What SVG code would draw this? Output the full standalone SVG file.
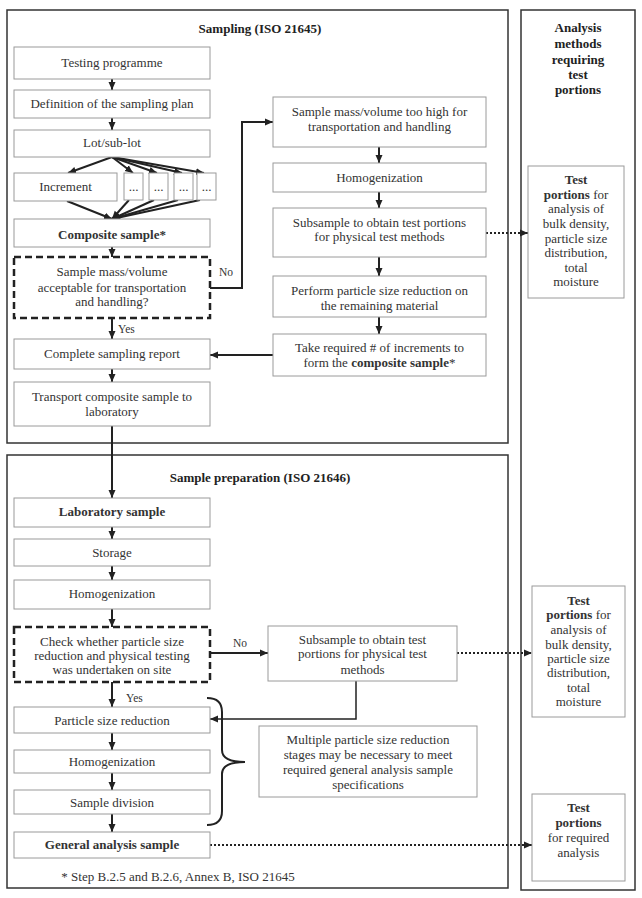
<svg xmlns="http://www.w3.org/2000/svg" width="642" height="898" viewBox="0 0 642 898">
<defs>
<marker id="ah" markerUnits="userSpaceOnUse" markerWidth="9" markerHeight="8" refX="8" refY="4" orient="auto">
<path d="M0,0.5 L8,4 L0,7.5 z" fill="#222"/>
</marker>
<style>
.frame{fill:none;stroke:#333;stroke-width:1.5}
.box{fill:#fff;stroke:#9a9a9a;stroke-width:1}
.dash{fill:#fff;stroke:#222;stroke-width:2.5;stroke-dasharray:7,4}
text{font-family:"Liberation Serif","DejaVu Serif",serif;font-size:13px;fill:#333;text-anchor:middle}
.b{font-weight:bold}
.t{font-weight:bold;fill:#222}
.sm{font-size:11.5px}
.l{text-anchor:start}
.arr{fill:none;stroke:#222;stroke-width:2;marker-end:url(#ah)}
.thin{fill:none;stroke:#222;stroke-width:1.5;marker-end:url(#ah)}
.dot{fill:none;stroke:#222;stroke-width:2;stroke-dasharray:2,2;marker-end:url(#ah)}
.ln{fill:none;stroke:#222;stroke-width:2}
</style>
</defs>

<g id="frames">
<rect class="frame" x="7" y="10" width="501" height="433"/>
<rect class="frame" x="7" y="455" width="501" height="433"/>
<rect class="frame" x="521" y="10" width="114" height="880"/>
<text class="t" x="260" y="33">Sampling (ISO 21645)</text>
<text class="t" x="260" y="482">Sample preparation (ISO 21646)</text>
<text class="t" x="578" y="32">Analysis</text>
<text class="t" x="578" y="48">methods</text>
<text class="t" x="578" y="64">requiring</text>
<text class="t" x="578" y="79">test</text>
<text class="t" x="578" y="94">portions</text>
</g>

<g id="connectors">
<path class="arr" d="M112,79 L112,90"/>
<path class="arr" d="M112,118 L112,130"/>
<path class="arr" d="M112,157 L68,173"/>
<path class="arr" d="M112,157 L133,173"/>
<path class="arr" d="M112,157 L157,173"/>
<path class="arr" d="M112,157 L182,173"/>
<path class="arr" d="M112,157 L204,173"/>
<path class="arr" d="M67,201 L112,219"/>
<path class="arr" d="M129,200 L112,219"/>
<path class="arr" d="M154,200 L112,219"/>
<path class="arr" d="M178,200 L112,219"/>
<path class="arr" d="M200,200 L112,219"/>
<path class="arr" d="M112,247 L112,257"/>
<path class="arr" d="M112,318 L112,339"/>
<path class="arr" d="M210,288 L242,288 L242,122 L273,122"/>
<path class="arr" d="M379,147 L379,163"/>
<path class="arr" d="M379,192 L379,208"/>
<path class="arr" d="M379,257 L379,276"/>
<path class="arr" d="M379,317 L379,334"/>
<path class="arr" d="M273,355 L210,355"/>
<path class="arr" d="M112,369 L112,382"/>
<path class="dot" d="M486,233 L528,233"/>
<path class="arr" d="M112,426 L112,498"/>
<path class="arr" d="M112,527 L112,539"/>
<path class="arr" d="M112,566 L112,580"/>
<path class="arr" d="M112,609 L112,627"/>
<path class="arr" d="M210,653 L268,653"/>
<path class="dot" d="M457,653 L532,653"/>
<path class="thin" d="M356,681 L356,719 L210,719"/>
<path class="arr" d="M112,682 L112,707"/>
<path class="arr" d="M112,733 L112,750"/>
<path class="arr" d="M112,773 L112,790"/>
<path class="arr" d="M112,814 L112,832"/>
<path class="dot" d="M210,845 L532,845"/>
<path class="ln" d="M207,698 Q222,698 222,712 L222,750 Q222,762 245,762 Q222,762 222,774 L222,811 Q222,825 207,825"/>
<text class="sm" x="226" y="276">No</text>
<text class="sm l" x="118" y="333">Yes</text>
<text class="sm" x="240" y="647">No</text>
<text class="sm l" x="126" y="702">Yes</text>
</g>

<g id="n-testing">
<rect class="box" x="14" y="47" width="196" height="32"/>
<text x="112" y="67">Testing programme</text>
</g>
<g id="n-definition">
<rect class="box" x="14" y="90" width="196" height="28"/>
<text x="112" y="108">Definition of the sampling plan</text>
</g>
<g id="n-lot">
<rect class="box" x="14" y="130" width="196" height="27"/>
<text x="112" y="147">Lot/sub-lot</text>
</g>
<g id="n-increment">
<rect class="box" x="14" y="173" width="103" height="28"/>
<text x="65.5" y="191">Increment</text>
</g>
<g id="n-dots1"><rect class="box" x="124" y="173" width="19" height="27"/><text x="133.5" y="191">...</text></g>
<g id="n-dots2"><rect class="box" x="149" y="173" width="19" height="27"/><text x="158.5" y="191">...</text></g>
<g id="n-dots3"><rect class="box" x="174" y="173" width="19" height="27"/><text x="183.5" y="191">...</text></g>
<g id="n-dots4"><rect class="box" x="197" y="173" width="19" height="27"/><text x="206.5" y="191">...</text></g>
<g id="n-composite">
<rect class="box" x="14" y="219" width="196" height="28"/>
<text class="b" x="112" y="239">Composite sample*</text>
</g>
<g id="n-acceptable">
<rect class="dash" x="14" y="257" width="196" height="61"/>
<text x="112" y="276">Sample mass/volume</text>
<text x="112" y="292">acceptable for transportation</text>
<text x="112" y="306">and handling?</text>
</g>
<g id="n-report">
<rect class="box" x="14" y="339" width="196" height="30"/>
<text x="112" y="358">Complete sampling report</text>
</g>
<g id="n-transport">
<rect class="box" x="14" y="382" width="196" height="44"/>
<text x="112" y="401">Transport composite sample to</text>
<text x="112" y="416">laboratory</text>
</g>
<g id="n-toohigh">
<rect class="box" x="273" y="97" width="213" height="50"/>
<text x="379.5" y="116">Sample mass/volume too high for</text>
<text x="379.5" y="131">transportation and handling</text>
</g>
<g id="n-homog1">
<rect class="box" x="273" y="163" width="213" height="29"/>
<text x="379.5" y="182">Homogenization</text>
</g>
<g id="n-subsample1">
<rect class="box" x="273" y="208" width="213" height="49"/>
<text x="379.5" y="227">Subsample to obtain test portions</text>
<text x="379.5" y="241">for physical test methods</text>
</g>
<g id="n-perform">
<rect class="box" x="273" y="276" width="213" height="41"/>
<text x="379.5" y="295">Perform particle size reduction on</text>
<text x="379.5" y="310">the remaining material</text>
</g>
<g id="n-take">
<rect class="box" x="273" y="334" width="213" height="42"/>
<text x="379.5" y="352">Take required # of increments to</text>
<text x="379.5" y="367">form the <tspan class="b">composite sample</tspan>*</text>
</g>

<g id="n-lab">
<rect class="box" x="14" y="498" width="196" height="29"/>
<text class="b" x="112" y="516">Laboratory sample</text>
</g>
<g id="n-storage">
<rect class="box" x="14" y="539" width="196" height="27"/>
<text x="112" y="557">Storage</text>
</g>
<g id="n-homog2">
<rect class="box" x="14" y="580" width="196" height="29"/>
<text x="112" y="598">Homogenization</text>
</g>
<g id="n-check">
<rect class="dash" x="14" y="627" width="196" height="55"/>
<text x="112" y="646">Check whether particle size</text>
<text x="112" y="660">reduction and physical testing</text>
<text x="112" y="674">was undertaken on site</text>
</g>
<g id="n-subsample2">
<rect class="box" x="268" y="626" width="189" height="55"/>
<text x="362.5" y="644">Subsample to obtain test</text>
<text x="362.5" y="658">portions for physical test</text>
<text x="362.5" y="674">methods</text>
</g>
<g id="n-psr">
<rect class="box" x="14" y="707" width="196" height="26"/>
<text x="112" y="725">Particle size reduction</text>
</g>
<g id="n-homog3">
<rect class="box" x="14" y="750" width="196" height="23"/>
<text x="112" y="766">Homogenization</text>
</g>
<g id="n-division">
<rect class="box" x="14" y="790" width="196" height="24"/>
<text x="112" y="807">Sample division</text>
</g>
<g id="n-general">
<rect class="box" x="14" y="832" width="196" height="26"/>
<text class="b" x="112" y="849">General analysis sample</text>
</g>
<g id="n-multiple">
<rect class="box" x="259" y="726" width="218" height="71"/>
<text x="368" y="744">Multiple particle size reduction</text>
<text x="368" y="759">stages may be necessary to meet</text>
<text x="368" y="774">required general analysis sample</text>
<text x="368" y="789">specifications</text>
</g>
<g id="n-footnote">
<text x="178" y="881">* Step B.2.5 and B.2.6, Annex B, ISO 21645</text>
</g>

<g id="n-tp1">
<rect class="box" x="528" y="166" width="96" height="132"/>
<text class="b" x="576" y="184">Test</text>
<text x="576" y="199"><tspan class="b">portions</tspan> for</text>
<text x="576" y="213">analysis of</text>
<text x="576" y="228">bulk density,</text>
<text x="576" y="243">particle size</text>
<text x="576" y="257">distribution,</text>
<text x="576" y="272">total</text>
<text x="576" y="286">moisture</text>
</g>
<g id="n-tp2">
<rect class="box" x="532" y="586" width="93" height="131"/>
<text class="b" x="578.5" y="605">Test</text>
<text x="578.5" y="619"><tspan class="b">portions</tspan> for</text>
<text x="578.5" y="634">analysis of</text>
<text x="578.5" y="649">bulk density,</text>
<text x="578.5" y="663">particle size</text>
<text x="578.5" y="677">distribution,</text>
<text x="578.5" y="692">total</text>
<text x="578.5" y="706">moisture</text>
</g>
<g id="n-tp3">
<rect class="box" x="532" y="794" width="93" height="87"/>
<text class="b" x="578.5" y="812">Test</text>
<text class="b" x="578.5" y="827">portions</text>
<text x="578.5" y="842">for required</text>
<text x="578.5" y="857">analysis</text>
</g>
</svg>
